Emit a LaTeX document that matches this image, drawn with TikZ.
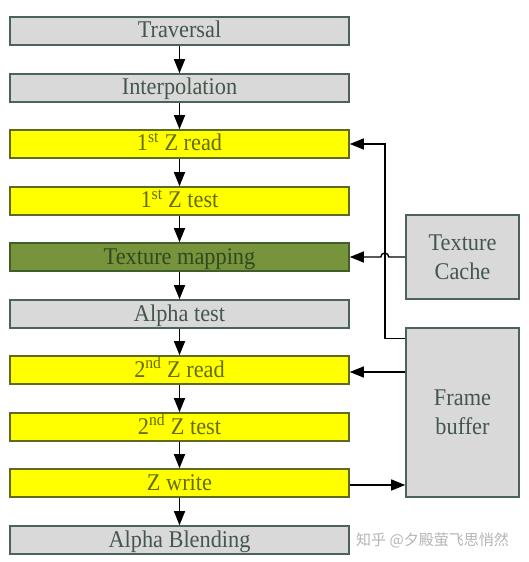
\documentclass[tikz,border=0pt]{standalone}
\usepackage{fontspec}
\setmainfont{Liberation Serif}
\newfontfamily\stagefont[FakeStretch=0.93]{Liberation Serif}
\newfontfamily\cjk{Noto Sans CJK SC}
\usetikzlibrary{arrows.meta,calc}
\definecolor{grayfill}{HTML}{D9D9D9}
\definecolor{grayline}{HTML}{4B6358}
\definecolor{graytext}{HTML}{44574C}
\definecolor{yelfill}{HTML}{FFFF00}
\definecolor{yelline}{HTML}{5E6B1E}
\definecolor{yeltext}{HTML}{646C00}
\definecolor{grnfill}{HTML}{77933C}
\definecolor{grnline}{HTML}{3F5F2A}
\definecolor{grntext}{HTML}{2F4A1F}
\definecolor{wmark}{HTML}{B4B4B4}
\tikzset{
  stage/.style={draw, line width=1.6bp, minimum width=339bp, minimum height=28bp, inner sep=0pt,
    text height=16bp, text depth=2bp,
    font=\stagefont\fontsize{24bp}{26bp}\selectfont},
  graystage/.style={stage, fill=grayfill, draw=grayline, text=graytext},
  yelstage/.style={stage, fill=yelfill, draw=yelline, text=yeltext},
  grnstage/.style={stage, fill=grnfill, draw=grnline, text=grntext},
  sidebox/.style={draw=grayline, fill=grayfill, text=graytext, line width=1.6bp, minimum width=113bp,
    inner sep=0pt, align=center, font=\stagefont\fontsize{24bp}{29bp}\selectfont},
  arr/.style={-{Triangle[length=14bp,width=11bp]}, line width=1.4bp, black},
}
\begin{document}
\begin{tikzpicture}[x=1bp,y=-1bp]
\useasboundingbox (0,0) rectangle (529,562);
\node[graystage] (trav) at (179.5,31) {Traversal};
\node[graystage] (interp) at (179.5,88) {Interpolation};
\node[yelstage] (z1r) at (179.5,144) {1\textsuperscript{st} Z read};
\node[yelstage] (z1t) at (179.5,201) {1\textsuperscript{st} Z test};
\node[grnstage] (tm) at (179.5,257) {Texture mapping};
\node[graystage] (at) at (179.5,314) {Alpha test};
\node[yelstage] (z2r) at (179.5,370) {2\textsuperscript{nd} Z read};
\node[yelstage] (z2t) at (179.5,427) {2\textsuperscript{nd} Z test};
\node[yelstage] (zw) at (179.5,483) {Z write};
\node[graystage] (ab) at (179.5,540) {Alpha Blending};
\node[sidebox, minimum height=84bp] (tc) at (462.5,257) {Texture\\Cache};
\node[sidebox, minimum height=169bp] (fb) at (462.5,412.5) {Frame\\buffer};
\node[text=wmark, font=\cjk\fontsize{15bp}{17bp}\selectfont, anchor=west, inner sep=0pt] (wm) at (356,540) {知乎 @夕殿萤飞思悄然};
\foreach \a/\b in {trav/interp, interp/z1r, z1r/z1t, z1t/tm, tm/at, at/z2r, z2r/z2t, z2t/zw, zw/ab}
  \draw[arr] (\a.south) -- (\b.north);
\draw[arr] ([yshift=-11bp]fb.north west) -| ([xshift=35bp]z1r.east) -- (z1r.east);
\draw[arr] (tc.west) -- ([xshift=39bp]tm.east) arc (0:-180:4) -- (tm.east);
\draw[arr] ([yshift=-2bp]fb.west |- z2r.east) -- ([yshift=-2bp]z2r.east);
\draw[arr] ([yshift=-2bp]zw.east) -- ([yshift=-2bp]fb.west |- zw.east);
\end{tikzpicture}
\end{document}
